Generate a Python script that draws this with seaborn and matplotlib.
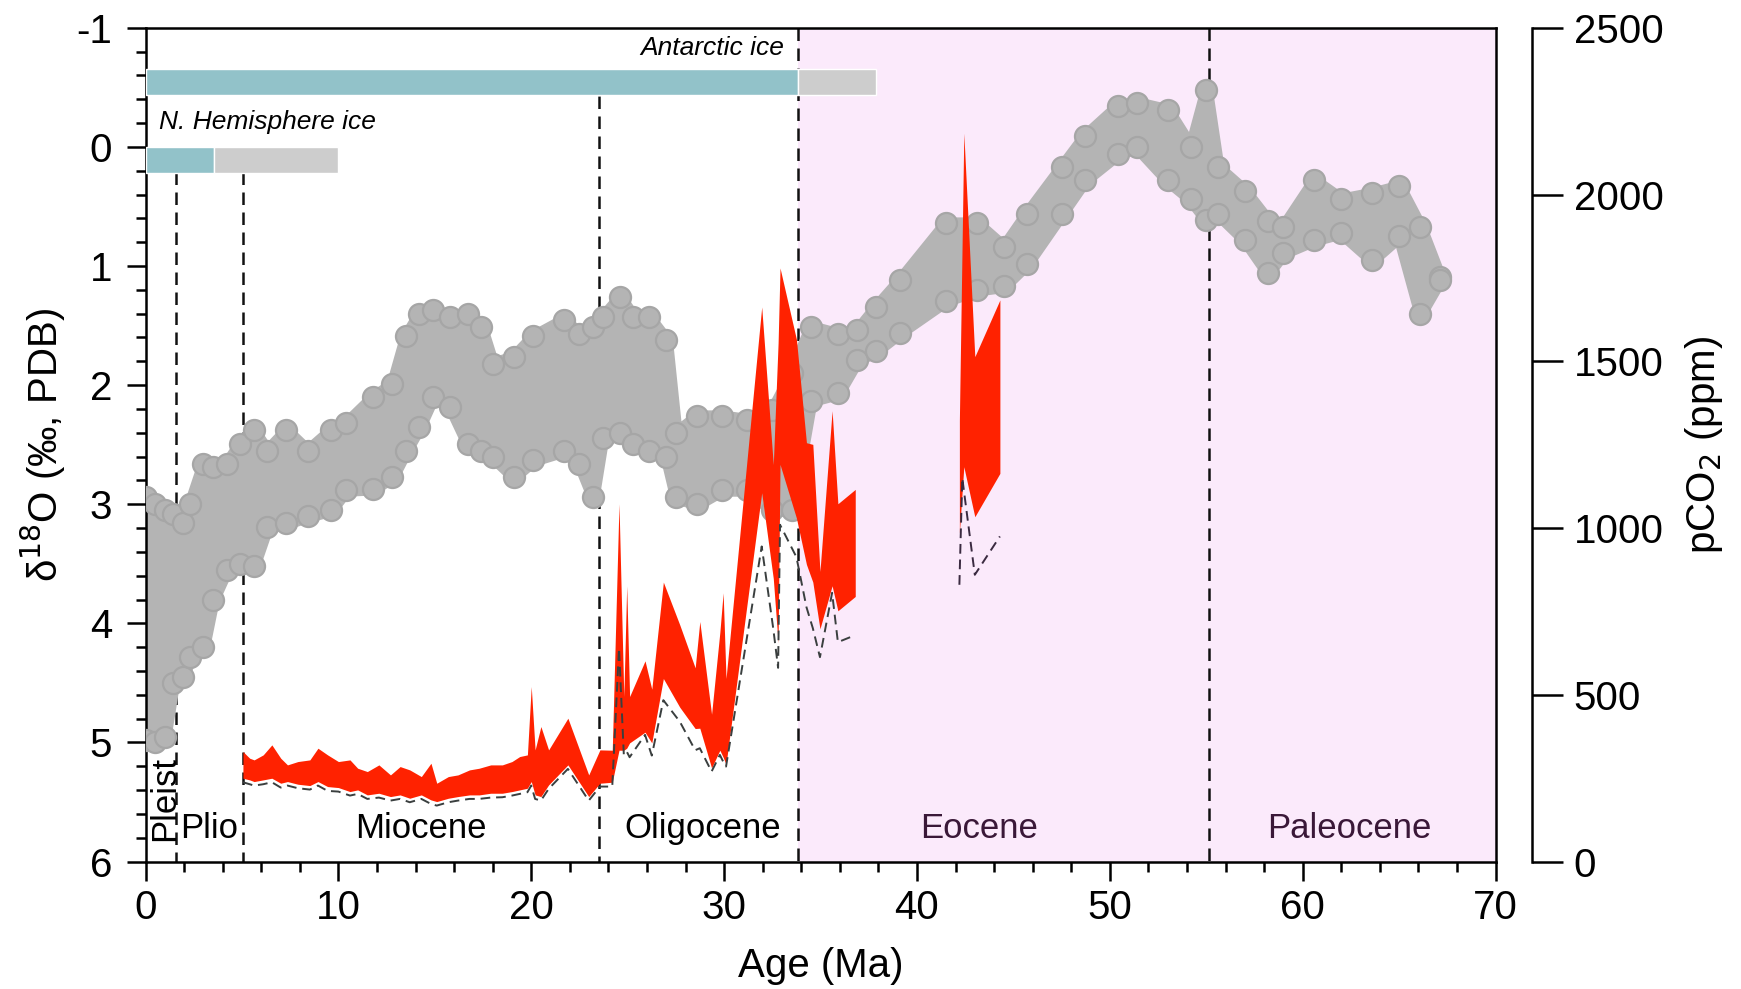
import matplotlib
matplotlib.use('Agg')
import matplotlib.pyplot as plt
import seaborn as sns
import numpy as np
from matplotlib.ticker import MultipleLocator

# benthic d18O cloud (upper / lower edge of the point cloud)
d18o_age = [0.0, 0.5, 1.0, 1.44, 1.96, 2.3, 3.0, 3.5, 4.2, 4.9, 5.6, 6.3, 7.3,
            8.4, 9.6, 10.4, 11.8, 12.8, 13.5, 14.2, 14.9, 15.8, 16.7, 17.4,
            18.0, 19.1, 20.1, 21.7, 22.5, 23.2, 23.7, 24.6, 25.3, 26.1, 27.0,
            27.5, 28.6, 29.9, 31.2, 32.5, 33.5, 34.5, 35.9, 36.9, 37.9, 39.1,
            41.5, 43.1, 44.5, 45.7, 47.5, 48.7, 50.4, 51.4, 53.0, 54.2, 55.0,
            55.6, 57.0, 58.2, 59.0, 60.6, 62.0, 63.6, 65.0, 66.1, 67.1]
d18o_top = [2.94, 3.0, 3.05, 3.08, 3.16, 3.0, 2.66, 2.69, 2.66, 2.49, 2.38,
            2.55, 2.38, 2.55, 2.38, 2.32, 2.10, 1.99, 1.59, 1.40, 1.37, 1.43,
            1.40, 1.51, 1.82, 1.76, 1.59, 1.45, 1.57, 1.51, 1.43, 1.26, 1.43,
            1.43, 1.62, 2.40, 2.26, 2.26, 2.29, 2.21, 1.90, 1.51, 1.57, 1.54,
            1.34, 1.12, 0.64, 0.64, 0.84, 0.56, 0.17, -0.09, -0.34, -0.37,
            -0.31, 0.0, -0.48, 0.17, 0.37, 0.62, 0.67, 0.28, 0.44, 0.39, 0.33,
            0.67, 1.09]
d18o_bot = [4.98, 5.0, 4.95, 4.50, 4.45, 4.28, 4.20, 3.80, 3.55, 3.50, 3.52,
            3.19, 3.16, 3.10, 3.05, 2.88, 2.87, 2.77, 2.55, 2.35, 2.10, 2.18,
            2.49, 2.55, 2.60, 2.77, 2.63, 2.55, 2.66, 2.94, 2.44, 2.40, 2.49,
            2.55, 2.60, 2.94, 3.0, 2.88, 2.88, 3.05, 3.05, 2.13, 2.07, 1.79,
            1.71, 1.56, 1.29, 1.20, 1.17, 0.98, 0.56, 0.28, 0.06, 0.0, 0.28,
            0.44, 0.61, 0.56, 0.78, 1.06, 0.89, 0.78, 0.72, 0.95, 0.75, 1.40,
            1.12]

# pCO2 band, Miocene to late Eocene (upper, lower, dashed lower bound)
co2_age = [5.05, 5.4, 5.63, 6.1, 6.55, 7.01, 7.36, 7.9, 8.52, 8.94, 9.44, 10.0,
           10.6, 11.0, 11.5, 12.1, 12.7, 13.2, 13.7, 14.3, 14.8, 15.1, 15.7,
           16.2, 16.8, 17.3, 17.9, 18.5, 19.0, 19.4, 19.8, 20.0, 20.2, 20.5,
           20.9, 21.9, 22.98, 23.56,
           24.2, 24.55, 24.8, 24.95, 25.1, 25.9, 26.25, 26.85, 27.7, 28.5,
           28.74, 29.35, 29.78, 29.95, 30.1, 31.95, 32.55, 32.8, 32.9, 33.75,
           34.27, 34.6, 34.97, 35.6, 35.9, 36.8]
co2_high = [330, 310, 305, 320, 350, 310, 290, 300, 305, 340, 320, 300, 305,
            280, 270, 290, 260, 285, 275, 255, 295, 235, 255, 260, 275, 280,
            290, 290, 300, 315, 320, 525, 335, 405, 335, 430, 260, 335,
            334, 1073, 495, 827, 495, 602, 517, 838, 710, 581, 720, 442, 688,
            806, 549, 1663, 1190, 1555, 1780, 1566, 1256, 1251, 870, 1352,
            1073, 1116]
co2_low = [250, 245, 240, 245, 250, 235, 240, 232, 228, 240, 225, 222, 210,
           215, 200, 205, 195, 200, 190, 200, 185, 180, 190, 195, 200, 200,
           205, 205, 210, 215, 220, 240, 200, 195, 230, 290, 195, 235,
           238, 334, 334, 340, 356, 388, 356, 549, 463, 399, 400, 281, 334,
           313, 292, 1106, 849, 656, 1191, 1030, 891, 838, 698, 827, 752, 795]
co2_dash = [238, 232, 228, 232, 238, 222, 228, 220, 216, 228, 212, 210, 198,
            203, 188, 192, 183, 188, 178, 188, 173, 168, 178, 183, 188, 188,
            192, 193, 198, 203, 208, 228, 188, 183, 218, 278, 183, 225,
            225, 640, 320, 330, 313, 380, 318, 484, 420, 334, 340, 270, 320,
            300, 285, 945, 698, 581, 1010, 913, 763, 700, 613, 806, 658, 679]

# pCO2 band, middle Eocene
co2e_age = [42.2, 42.43, 43.0, 44.3]
co2e_high = [1324, 2184, 1514, 1684]
co2e_low = [985, 1184, 1034, 1164]
co2e_dash_age = [42.2, 42.35, 43.0, 44.3]
co2e_dash = [830, 1150, 860, 975]

boundary_age = [1.6, 5.07, 23.5, 33.85, 55.15]
boundary_top = [0.21, 0.21, -0.43, -1.0, -1.0]

epoch_names = ['Pleist', 'Plio', 'Miocene', 'Oligocene', 'Eocene', 'Paleocene']
epoch_x = [1.0, 3.3, 14.3, 28.9, 43.2, 62.4]

ice_names = ['Antarctic ice', 'N. Hemisphere ice']
ice_y = [-0.544, 0.11]
ice_full_end = [33.85, 3.55]
ice_part_end = [37.9, 10.0]

sns.set_theme(style='ticks', rc={'axes.edgecolor': 'black', 'text.color': 'black',
                                 'xtick.color': 'black', 'ytick.color': 'black',
                                 'axes.labelcolor': 'black'})
plt.rcParams['font.family'] = ['Liberation Sans', 'DejaVu Sans']
plt.rcParams['axes.unicode_minus'] = False

fig = plt.figure(figsize=(17.41, 9.89), dpi=100)
ax = fig.add_axes([0.0836, 0.1288, 0.7754, 0.8431])

ax.axvspan(33.85, 70, color='#fbeafb', lw=0, zorder=0)

ax.vlines(boundary_age, boundary_top, 6, colors='#111111', linestyles=(0, (5, 3)),
          lw=1.8, zorder=1)

grey = '#b4b4b4'
ax.fill_between(d18o_age, d18o_top, d18o_bot, facecolor=grey, edgecolor=grey,
                lw=9, joinstyle='round', zorder=2)
sns.scatterplot(x=d18o_age + d18o_age, y=d18o_top + d18o_bot, ax=ax, marker='o',
                s=230, color=grey, edgecolor='#a6a6a6', linewidth=1.6,
                zorder=3, legend=False)

# ice sheet bars
ax.barh(ice_y, ice_full_end, left=0, height=0.22, color='#92c2c9', zorder=4)
ax.barh(ice_y, np.subtract(ice_part_end, ice_full_end), left=ice_full_end,
        height=0.22, color='#cdcdcd', zorder=4)
ax.text(33.1, -0.83, ice_names[0], ha='right', va='center', style='italic',
        fontsize=19)
ax.text(0.7, -0.21, ice_names[1], ha='left', va='center', style='italic',
        fontsize=19)

for name, x in zip(epoch_names, epoch_x):
    col = '#3a1838' if x > 34 else 'black'
    if name == 'Pleist':
        ax.text(x, 5.47, name, rotation=90, ha='center', va='center', fontsize=25)
    else:
        ax.text(x, 5.72, name, ha='center', va='center', fontsize=25, color=col)

ax.set_xlim(0, 70)
ax.set_ylim(6, -1)
ax.xaxis.set_major_locator(MultipleLocator(10))
ax.xaxis.set_minor_locator(MultipleLocator(2))
ax.yaxis.set_major_locator(MultipleLocator(1))
ax.yaxis.set_minor_locator(MultipleLocator(0.2))
ax.tick_params(which='major', direction='out', length=14, width=1.8,
               labelsize=29, pad=6)
ax.tick_params(which='minor', direction='out', length=7, width=1.8)
ax.tick_params(axis='y', which='major', pad=10)
for s in ax.spines.values():
    s.set_linewidth(1.8)
ax.set_xlabel('Age (Ma)', fontsize=29, labelpad=14)
ax.set_ylabel('δ$^{18}$O (‰, PDB)', fontsize=29, labelpad=6)

ax2 = ax.twinx()
ax2.fill_between(co2_age, co2_low, co2_high, color='#ff2200', lw=0, zorder=2)
ax2.fill_between(co2e_age, co2e_low, co2e_high, color='#ff2200', lw=0, zorder=2)
sns.lineplot(x=co2_age, y=co2_dash, ax=ax2, color='#3a3f3f', lw=1.4,
             linestyle=(0, (5, 3)), sort=False, estimator=None, zorder=3)
sns.lineplot(x=co2e_dash_age, y=co2e_dash, ax=ax2, color='#3a2a40', lw=1.4,
             linestyle=(0, (5, 3)), sort=False, estimator=None, zorder=3)
ax2.set_ylim(0, 2500)
ax2.yaxis.set_major_locator(MultipleLocator(500))
for side in ['left', 'top', 'bottom']:
    ax2.spines[side].set_visible(False)
ax2.spines['right'].set_position(('axes', 1.027))
ax2.spines['right'].set_linewidth(1.8)
ax2.tick_params(axis='y', direction='out', length=22, width=1.8, labelsize=29, pad=8)
ax2.set_ylabel('pCO$_2$ (ppm)', fontsize=29, labelpad=14)

fig.savefig('out.png', dpi=100)
